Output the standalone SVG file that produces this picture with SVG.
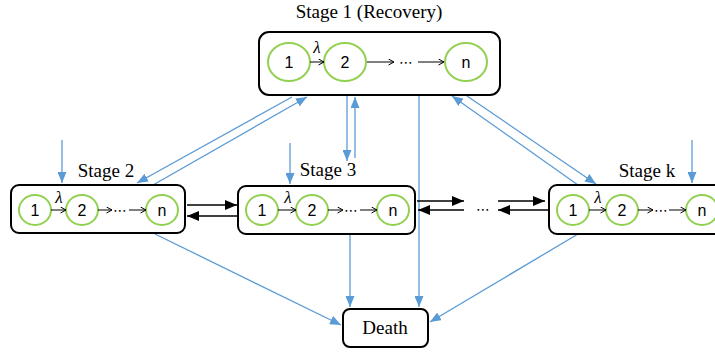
<svg xmlns="http://www.w3.org/2000/svg" width="715" height="352" viewBox="0 0 715 352">
<defs>
<marker id="ab" markerUnits="userSpaceOnUse" markerWidth="11" markerHeight="9" refX="11" refY="4.5" orient="auto"><path d="M0,0 L11,4.5 L0,9 z" fill="#5B9BD5"/></marker>
<marker id="ak" markerUnits="userSpaceOnUse" markerWidth="12" markerHeight="10" refX="12" refY="5" orient="auto"><path d="M0,0 L12,5 L0,10 z" fill="#000"/></marker>
<marker id="as" markerUnits="userSpaceOnUse" markerWidth="7" markerHeight="7" refX="6" refY="3.5" orient="auto"><path d="M0.5,0.5 L6,3.5 L0.5,6.5" fill="none" stroke="#000" stroke-width="1"/></marker>
<style>
.box{fill:#fff;stroke:#000;stroke-width:2}
.c{fill:#fff;stroke:#92D050;stroke-width:2}
.cl{font-family:"Liberation Sans",Arial,sans-serif;font-size:16px;text-anchor:middle;fill:#000}
.t{font-family:"Liberation Serif","Times New Roman",serif;font-size:19px;text-anchor:middle;fill:#000}
.lam{font-family:"Liberation Serif","Times New Roman",serif;font-size:17px;font-style:italic;text-anchor:middle;fill:#000}
.sa{stroke:#000;stroke-width:1;fill:none;marker-end:url(#as)}
.dots{font-family:"DejaVu Sans",sans-serif;font-size:14px;text-anchor:middle;fill:#000}
.bl{stroke:#5B9BD5;stroke-width:1.3;fill:none;marker-end:url(#ab)}
.bk{stroke:#000;stroke-width:1.5;fill:none;marker-end:url(#ak)}
</style>
</defs>
<g id="connectors">
<line class="bl" x1="292" y1="97" x2="137" y2="183"/>
<line class="bl" x1="153" y1="185" x2="307" y2="97"/>
<line class="bl" x1="347" y1="96" x2="347" y2="161"/>
<line class="bl" x1="355" y1="158" x2="355" y2="97"/>
<line class="bl" x1="467" y1="96" x2="596" y2="184"/>
<line class="bl" x1="578" y1="185" x2="452" y2="96"/>
<line class="bl" x1="419" y1="96" x2="419" y2="307"/>
<line class="bl" x1="350" y1="234" x2="350" y2="307"/>
<line class="bl" x1="155" y1="234" x2="341" y2="325"/>
<line class="bl" x1="578" y1="234" x2="430" y2="322"/>
<line class="bl" x1="62" y1="140" x2="62" y2="183"/>
<line class="bl" x1="290" y1="143" x2="290" y2="184"/>
<line class="bl" x1="692" y1="140" x2="692" y2="183"/>
<line class="bk" x1="187" y1="205" x2="237" y2="205"/>
<line class="bk" x1="238" y1="216" x2="187" y2="216"/>
<line class="bk" x1="417" y1="201" x2="464" y2="201"/>
<line class="bk" x1="464" y1="210" x2="418" y2="210"/>
<line class="bk" x1="498" y1="201" x2="545" y2="201"/>
<line class="bk" x1="548" y1="210" x2="498" y2="210"/>
<text class="dots" x="483" y="214">⋯</text>
</g>
<g id="stage1">
<text class="t" x="369" y="18">Stage 1 (Recovery)</text>
<rect class="box" x="259" y="32" width="241" height="63" rx="10"/>
<ellipse class="c" cx="289" cy="62" rx="21" ry="19"/><text class="cl" x="289" y="68" font-size="17">1</text>
<ellipse class="c" cx="345" cy="62" rx="21" ry="19"/><text class="cl" x="345" y="68" font-size="17">2</text>
<ellipse class="c" cx="466" cy="62" rx="21" ry="19"/><text class="cl" x="466" y="68" font-size="17">n</text>
<text class="lam" x="317" y="53">λ</text>
<line class="sa" x1="310" y1="62" x2="324" y2="62"/>
<line class="sa" x1="367" y1="62" x2="394" y2="62"/>
<text class="dots" x="406" y="67">⋯</text>
<line class="sa" x1="418" y1="62" x2="444" y2="62"/>
</g>
<g id="stage2">
<text class="t" x="106" y="177">Stage 2</text>
<rect class="box" x="11" y="185" width="174" height="48" rx="8"/>
<ellipse class="c" cx="35" cy="210" rx="16" ry="15"/><text class="cl" x="35" y="216">1</text>
<ellipse class="c" cx="82" cy="210" rx="16" ry="15"/><text class="cl" x="82" y="216">2</text>
<ellipse class="c" cx="162" cy="210" rx="16" ry="15"/><text class="cl" x="162" y="216">n</text>
<text class="lam" x="59" y="203">λ</text>
<line class="sa" x1="51" y1="210" x2="66" y2="210"/>
<line class="sa" x1="98" y1="210" x2="112" y2="210"/>
<text class="dots" x="120" y="215">⋯</text>
<line class="sa" x1="129" y1="210" x2="146" y2="210"/>
</g>
<g id="stage3">
<text class="t" x="328" y="176">Stage 3</text>
<rect class="box" x="238" y="186" width="177" height="48" rx="8"/>
<ellipse class="c" cx="262" cy="210" rx="16" ry="15"/><text class="cl" x="262" y="216">1</text>
<ellipse class="c" cx="312" cy="210" rx="16" ry="15"/><text class="cl" x="312" y="216">2</text>
<ellipse class="c" cx="393" cy="210" rx="16" ry="15"/><text class="cl" x="393" y="216">n</text>
<text class="lam" x="288" y="203">λ</text>
<line class="sa" x1="278" y1="210" x2="296" y2="210"/>
<line class="sa" x1="328" y1="210" x2="343" y2="210"/>
<text class="dots" x="351" y="215">⋯</text>
<line class="sa" x1="360" y1="210" x2="377" y2="210"/>
</g>
<g id="stagek">
<text class="t" x="647" y="177">Stage k</text>
<rect class="box" x="549" y="185" width="180" height="49" rx="8"/>
<ellipse class="c" cx="573" cy="210" rx="16" ry="15"/><text class="cl" x="573" y="216">1</text>
<ellipse class="c" cx="622" cy="210" rx="16" ry="15"/><text class="cl" x="622" y="216">2</text>
<ellipse class="c" cx="702" cy="210" rx="16" ry="15"/><text class="cl" x="702" y="216">n</text>
<text class="lam" x="598" y="203">λ</text>
<line class="sa" x1="589" y1="210" x2="606" y2="210"/>
<line class="sa" x1="638" y1="210" x2="653" y2="210"/>
<text class="dots" x="661" y="215">⋯</text>
<line class="sa" x1="669" y1="210" x2="686" y2="210"/>
</g>
<g id="death">
<rect class="box" x="343" y="309" width="85" height="38" rx="7"/>
<text class="t" x="385" y="334">Death</text>
</g>
</svg>
